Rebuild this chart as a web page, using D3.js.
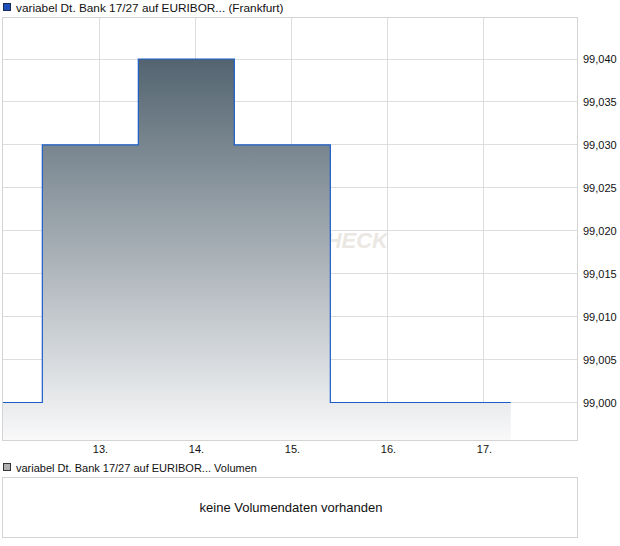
<!DOCTYPE html>
<html>
<head>
<meta charset="utf-8">
<script src="https://cdn.jsdelivr.net/npm/d3@7"></script>
<style>
  html, body { margin: 0; padding: 0; background: #fff; }
  svg { display: block; font-family: "Liberation Sans", Arial, sans-serif; }
</style>
</head>
<body>
<svg id="chart" width="620" height="546"></svg>
<script>
// ---- data ----
const seriesName = "variabel Dt. Bank 17/27 auf EURIBOR... (Frankfurt)";
const volumeName = "variabel Dt. Bank 17/27 auf EURIBOR... Volumen";
const noVolumeText = "keine Volumendaten vorhanden";
// time as day-of-month (fractional), price
const times  = [11.98, 12.40, 13.40, 14.40, 15.40, 17.28];
const prices = [99.000, 99.030, 99.040, 99.030, 99.000, 99.000];
const xTicks = [13, 14, 15, 16, 17];
const yTicks = [99.000, 99.005, 99.010, 99.015, 99.020, 99.025, 99.030, 99.035, 99.040];

const data = times.map((t, i) => ({ t, v: prices[i] }));

const svg = d3.select("#chart");
const plot = { left: 2, right: 578, top: 17, bottom: 440 };

const x = d3.scaleLinear().domain([11.98, 17.98]).range([plot.left, plot.right]);
const y = d3.scaleLinear().domain([98.995633, 99.044891]).range([plot.bottom, plot.top]);
const crisp = v => Math.floor(v) + 0.5;

// gradient
const defs = svg.append("defs");
const grad = defs.append("linearGradient").attr("id", "areaGrad")
  .attr("gradientUnits", "userSpaceOnUse")
  .attr("x1", 0).attr("x2", 0).attr("y1", y(99.040)).attr("y2", plot.bottom);
grad.append("stop").attr("offset", "0%").attr("stop-color", "#536470");
grad.append("stop").attr("offset", "100%").attr("stop-color", "#f9f9fa");

// top legend
svg.append("rect").attr("x", 3.5).attr("y", 3.5).attr("width", 7).attr("height", 7)
  .attr("fill", "#1d4fb8").attr("stroke", "#1a2a55").attr("stroke-width", 1);
svg.append("text").attr("x", 16).attr("y", 12).attr("font-size", 11.8).attr("fill", "#111")
  .text(seriesName);

// frame + grid
const g = svg.append("g");
g.selectAll("line.hgrid").data(yTicks).join("line")
  .attr("x1", plot.left).attr("x2", plot.right)
  .attr("y1", d => crisp(y(d))).attr("y2", d => crisp(y(d)))
  .attr("stroke", "#dddddd");
g.selectAll("line.vgrid").data(xTicks).join("line")
  .attr("y1", plot.top).attr("y2", plot.bottom)
  .attr("x1", d => crisp(x(d))).attr("x2", d => crisp(x(d)))
  .attr("stroke", "#dddddd");

// watermark (mostly hidden below the area)
g.append("text").attr("x", 388).attr("y", 248).attr("text-anchor", "end")
  .attr("font-size", 22).attr("font-style", "italic").attr("font-weight", "bold")
  .attr("fill", "#ebe8e3").text("CHECK");

// area + line
const area = d3.area().curve(d3.curveStepAfter)
  .x(d => x(d.t)).y0(plot.bottom).y1(d => y(d.v));
const line = d3.line().curve(d3.curveStepAfter)
  .x(d => x(d.t)).y(d => y(d.v));
g.append("path").datum(data).attr("d", area).attr("fill", "url(#areaGrad)");
g.append("path").datum(data).attr("d", line).attr("fill", "none")
  .attr("stroke", "#1a5cc8").attr("stroke-width", 1.2);

g.append("rect").attr("x", plot.left + 0.5).attr("y", plot.top + 0.5)
  .attr("width", plot.right - plot.left - 1).attr("height", plot.bottom - plot.top)
  .attr("fill", "none").attr("stroke", "#d4d4d4");

// right axis
const yAxis = d3.axisRight(y).tickValues(yTicks).tickSize(0).tickPadding(5)
  .tickFormat(d => d3.format(".3f")(d).replace(".", ","));
svg.append("g").attr("transform", `translate(${plot.right},0)`).call(yAxis)
  .call(s => s.select(".domain").remove())
  .selectAll("text").attr("font-size", 11).attr("fill", "#111")
  .attr("font-family", "Liberation Sans, Arial, sans-serif");

// bottom axis
const xAxis = d3.axisBottom(x).tickValues(xTicks).tickSize(0).tickPadding(5)
  .tickFormat(d => d + ".");
svg.append("g").attr("transform", `translate(0,${plot.bottom})`).call(xAxis)
  .call(s => s.select(".domain").remove())
  .selectAll("text").attr("font-size", 11).attr("fill", "#111")
  .attr("font-family", "Liberation Sans, Arial, sans-serif");

// volume panel
svg.append("rect").attr("x", 3.5).attr("y", 463.5).attr("width", 7).attr("height", 7)
  .attr("fill", "#b0b0b0").attr("stroke", "#333").attr("stroke-width", 1);
svg.append("text").attr("x", 16).attr("y", 472).attr("font-size", 11).attr("fill", "#111")
  .text(volumeName);
svg.append("rect").attr("x", 2.5).attr("y", 477.5).attr("width", 575).attr("height", 60)
  .attr("fill", "none").attr("stroke", "#d4d4d4");
svg.append("text").attr("x", 291).attr("y", 512).attr("text-anchor", "middle")
  .attr("font-size", 13).attr("fill", "#111").text(noVolumeText);
</script>
</body>
</html>
